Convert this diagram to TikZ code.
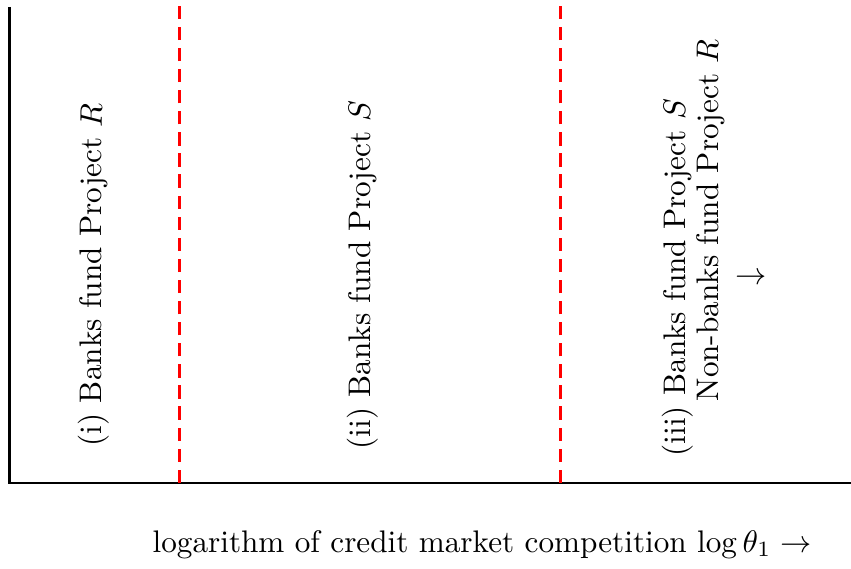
\documentclass[tikz,border=0pt]{standalone}
\begin{document}
\begin{tikzpicture}[x=0.3205pt,y=0.3205pt,
  axisline/.style={line width=0.86pt,black},
  divider/.style={line width=0.86pt,red,dash pattern=on 4.26pt off 2.5pt},
  vlabel/.style={rotate=90,anchor=base west,inner sep=0pt},
  xlabel/.style={anchor=base west,inner sep=0pt}]
\useasboundingbox (0,0) rectangle (851,568);
% axes
\coordinate (O) at (9.5,85);
\coordinate (ytop) at (9.5,561);
\coordinate (xend) at (851,85);
\draw[axisline] (ytop) -- (O) -- (xend);
% dividers
\coordinate (d1b) at (179.7,85);
\coordinate (d1t) at (179.7,566);
\coordinate (d2b) at (560.7,85);
\coordinate (d2t) at (560.7,566);
\draw[divider] (d1b) -- (d1t);
\draw[divider] (d2b) -- (d2t);
% region labels
\node[vlabel] (r1) at (102,121) {(i) Banks fund Project $R$};
\node[vlabel] (r2) at (370,118) {(ii) Banks fund Project $S$};
\node[vlabel] (r3a) at (685,111) {(iii) Banks fund Project $S$};
\node[vlabel] (r3b) at (718,166) {Non-banks fund Project $R$};
\node[inner sep=0pt] (r3c) at (751,289) {$\rightarrow$};
% axis label
\node[xlabel] (xl) at (152,16) {logarithm of credit market competition $\log\theta_1\rightarrow$};
\end{tikzpicture}
\end{document}
